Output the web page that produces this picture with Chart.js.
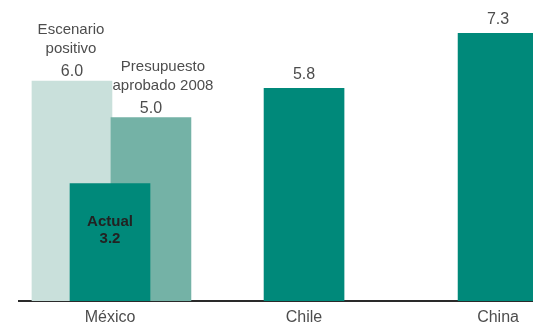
<!DOCTYPE html>
<html>
<head>
<meta charset="utf-8">
<script src="https://cdn.jsdelivr.net/npm/chart.js@4/dist/chart.umd.min.js"></script>
<style>
  html, body { margin: 0; padding: 0; background: #fff; overflow: hidden; }
  #wrap { width: 533px; height: 324px; position: relative; }
</style>
</head>
<body>
<div id="wrap"><canvas id="growth-chart"></canvas></div>
<script>
// Crecimiento (%)
const countries = ['México', 'Chile', 'China'];
const actualValues = [3.2, 5.8, 7.3];
const positivoValues = [6.0];      // solo México
const presupuestoValues = [5.0];   // solo México

const actualTitle = 'Actual';
const positivoTitle = ['Escenario', 'positivo'];
const presupuestoTitle = ['Presupuesto', 'aprobado 2008'];

const GREEN = '#00897a';
const MID_GREEN = '#74b2a6';
const LIGHT_GREEN = '#c9e0db';
const TEXT = '#4d4d4d';
const FONT = '"Liberation Sans", Arial, sans-serif';

// side bars for México sit left / right of the main one (fraction of a category)
const positivoShift = -0.196;
const presupuestoShift = 0.211;

const barLabels = {
    id: 'barLabels',
    afterDatasetsDraw(chart) {
        const ctx = chart.ctx;
        ctx.save();
        ctx.textAlign = 'center';
        ctx.textBaseline = 'alphabetic';

        // main series
        chart.getDatasetMeta(0).data.forEach((bar, i) => {
            const txt = actualValues[i].toFixed(1);
            if (i === 0) {
                ctx.fillStyle = '#222';
                ctx.font = 'bold 15px ' + FONT;
                ctx.fillText(actualTitle, bar.x, bar.y + 42);
                ctx.fillText(txt, bar.x, bar.y + 59);
            } else {
                ctx.fillStyle = TEXT;
                ctx.font = '16px ' + FONT;
                ctx.fillText(txt, bar.x, bar.y - 9);
            }
        });

        // side scenarios with titles above
        const side = [
            { meta: chart.getDatasetMeta(1), values: presupuestoValues, title: presupuestoTitle, dx: 12 },
            { meta: chart.getDatasetMeta(2), values: positivoValues, title: positivoTitle, dx: -1 }
        ];
        ctx.fillStyle = TEXT;
        side.forEach(s => {
            s.meta.data.forEach((bar, i) => {
                const base = bar.y - 5;
                ctx.font = '16px ' + FONT;
                ctx.fillText(s.values[i].toFixed(1), bar.x, base);
                ctx.font = '15px ' + FONT;
                const n = s.title.length;
                s.title.forEach((line, k) => {
                    ctx.fillText(line, bar.x + s.dx, base - 23 - (n - 1 - k) * 19);
                });
            });
        });
        ctx.restore();
    }
};

document.addEventListener('DOMContentLoaded', () => {
    const ctx = document.getElementById('growth-chart').getContext('2d');

    new Chart(ctx, {
        type: 'bar',
        data: {
            datasets: [
                {
                    label: 'Actual',
                    data: actualValues.map((v, i) => ({ x: i, y: v })),
                    backgroundColor: GREEN
                },
                {
                    label: 'Presupuesto aprobado 2008',
                    data: presupuestoValues.map((v, i) => ({ x: i + presupuestoShift, y: v })),
                    backgroundColor: MID_GREEN
                },
                {
                    label: 'Escenario positivo',
                    data: positivoValues.map((v, i) => ({ x: i + positivoShift, y: v })),
                    backgroundColor: LIGHT_GREEN
                }
            ]
        },
        options: {
            responsive: true,
            maintainAspectRatio: false,
            animation: false,
            layout: { padding: { left: 19, right: 0, top: 0, bottom: 0 } },
            datasets: {
                bar: { grouped: false, barThickness: 80, borderWidth: 0 }
            },
            plugins: {
                legend: { display: false },
                tooltip: { enabled: false }
            },
            scales: {
                x: {
                    type: 'linear',
                    offset: false,
                    min: -0.469,
                    max: 2.18,
                    grid: { display: false, drawTicks: false },
                    border: { display: true, color: '#2a2a2a', width: 2 },
                    afterBuildTicks: s => { s.ticks = countries.map((c, i) => ({ value: i })); },
                    afterFit: s => { s.height = 23; },
                    ticks: {
                        padding: 7,
                        color: TEXT,
                        font: { family: FONT, size: 16 },
                        callback: v => countries[v]
                    }
                },
                y: {
                    display: false,
                    min: 0,
                    max: 8.21
                }
            }
        },
        plugins: [barLabels]
    });
});
</script>
</body>
</html>
